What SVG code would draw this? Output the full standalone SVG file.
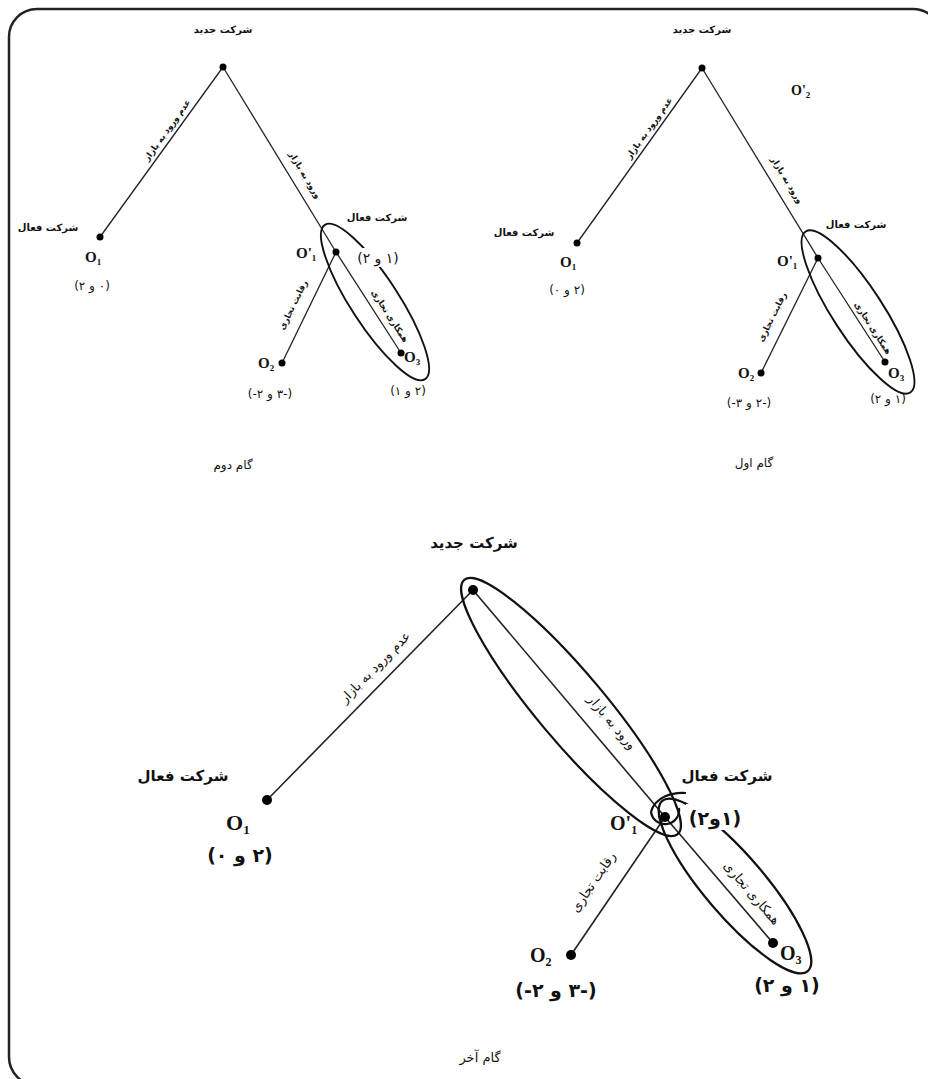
<svg xmlns="http://www.w3.org/2000/svg" width="928" height="1079" viewBox="0 0 928 1079">
<style>
.ln{stroke:#222;stroke-width:1.3;fill:none}
.lnb{stroke:#222;stroke-width:1.6;fill:none}
.el{stroke:#111;stroke-width:1.9;fill:none}
.elb{stroke:#111;stroke-width:2.2;fill:none}
.dot{fill:#000}
.fa{font-family:"DejaVu Sans","Noto Sans",sans-serif;fill:#111;text-anchor:middle}
.b{font-weight:bold}
.o{font-family:"Liberation Serif","Times New Roman",serif;font-weight:bold;fill:#111}
.num{font-family:"DejaVu Sans",sans-serif;fill:#111;text-anchor:middle;direction:ltr;unicode-bidi:bidi-override}
.bg{fill:#fff}
</style>
<rect x="9" y="9" width="932" height="1076" rx="28" fill="#fff" stroke="#222" stroke-width="2.5"/>

<g id="connectors">
  <line class="ln" x1="223" y1="67" x2="100" y2="237"/>
  <line class="ln" x1="223" y1="67" x2="336" y2="252"/>
  <line class="ln" x1="336" y1="252" x2="282" y2="363"/>
  <line class="ln" x1="336" y1="252" x2="401" y2="353"/>
  <line class="ln" x1="702" y1="68" x2="577" y2="243"/>
  <line class="ln" x1="702" y1="68" x2="818" y2="258"/>
  <line class="ln" x1="818" y1="258" x2="761" y2="373"/>
  <line class="ln" x1="818" y1="258" x2="885" y2="362"/>
  <line class="lnb" x1="473" y1="590" x2="267" y2="800"/>
  <line class="lnb" x1="473" y1="590" x2="665" y2="817"/>
  <line class="lnb" x1="665" y1="817" x2="571" y2="955"/>
  <line class="lnb" x1="665" y1="817" x2="773" y2="943"/>
</g>

<g id="highlights">
  <ellipse class="el" cx="375" cy="302" rx="92" ry="24" transform="rotate(57 375 302)"/>
  <ellipse class="el" cx="858" cy="312" rx="96" ry="25" transform="rotate(57 858 312)"/>
  <ellipse class="elb" cx="571" cy="707" rx="166" ry="34" transform="rotate(50 571 707)"/>
  <ellipse class="elb" cx="735" cy="886" rx="112" ry="30" transform="rotate(49.5 735 886)"/>
  <path class="elb" d="M 686 793 C 672 792 655 797 651 812 A 14 14 0 1 0 679 808"/>
</g>

<g id="edge-labels" class="fa b" font-size="8.5">
  <text transform="translate(167,130) rotate(-54.3)" dominant-baseline="central">عدم ورود به بازار</text>
  <text transform="translate(305,175) rotate(58.7)" dominant-baseline="central">ورود به بازار</text>
  <text transform="translate(293,305) rotate(-64)" dominant-baseline="central">رقابت تجاری</text>
  <text transform="translate(390,316) rotate(57.2)" dominant-baseline="central">همکاری تجاری</text>
  <text transform="translate(649,128) rotate(-54.5)" dominant-baseline="central">عدم ورود به بازار</text>
  <text transform="translate(787,180) rotate(58.6)" dominant-baseline="central">ورود به بازار</text>
  <text transform="translate(772,317) rotate(-63.6)" dominant-baseline="central">رقابت تجاری</text>
  <text transform="translate(873,328) rotate(57.2)" dominant-baseline="central">همکاری تجاری</text>
</g>
<g id="edge-labels-bottom" class="fa" font-size="13">
  <text transform="translate(375,667) rotate(-45.5)" dominant-baseline="central">عدم ورود به بازار</text>
  <text transform="translate(612,722) rotate(49.8)" dominant-baseline="central">ورود به بازار</text>
  <text transform="translate(593,882) rotate(-55.7)" dominant-baseline="central">رقابت تجاری</text>
  <text transform="translate(752,893) rotate(49.4)" dominant-baseline="central">همکاری تجاری</text>
</g>

<g id="tl-root">
  <circle class="dot" cx="223" cy="67" r="3.5"/>
  <text class="fa b" x="223" y="33" font-size="10">شرکت جدید</text>
</g>
<g id="tl-o1">
  <circle class="dot" cx="100" cy="237" r="3.5"/>
  <text class="fa b" x="48" y="231" font-size="10">شرکت فعال</text>
  <text class="o" x="85" y="262" font-size="15">O<tspan font-size="9" dy="3">1</tspan></text>
  <text class="num" x="92" y="290" font-size="12">(۲ و ۰)</text>
</g>
<g id="tl-o1p">
  <circle class="dot" cx="336" cy="252" r="3.5"/>
  <text class="o" x="296" y="258" font-size="15">O'<tspan font-size="9" dy="3">1</tspan></text>
  <text class="fa b" x="377" y="221" font-size="10">شرکت فعال</text>
  <rect class="bg" x="357" y="248" width="44" height="19"/>
  <text class="num" x="378" y="263" font-size="14">(۲ و ۱)</text>
</g>
<g id="tl-o2">
  <circle class="dot" cx="282" cy="363" r="3.5"/>
  <text class="o" x="258" y="368" font-size="15">O<tspan font-size="9" dy="3">2</tspan></text>
  <text class="num" x="270" y="398" font-size="12">(-۲ و ۳-)</text>
</g>
<g id="tl-o3">
  <circle class="dot" cx="401" cy="353" r="3.5"/>
  <text class="o" x="404" y="362" font-size="15">O<tspan font-size="9" dy="3">3</tspan></text>
  <text class="num" x="408" y="395" font-size="12">(۱ و ۲)</text>
</g>
<g id="tl-title"><text class="fa" x="233" y="469" font-size="12">گام دوم</text></g>

<g id="tr-root">
  <circle class="dot" cx="702" cy="68" r="3.5"/>
  <text class="fa b" x="702" y="33" font-size="10">شرکت جدید</text>
  <text class="o" x="791" y="95" font-size="14">O'<tspan font-size="9" dy="3">2</tspan></text>
</g>
<g id="tr-o1">
  <circle class="dot" cx="577" cy="243" r="3.5"/>
  <text class="fa b" x="524" y="236" font-size="10">شرکت فعال</text>
  <text class="o" x="560" y="267" font-size="15">O<tspan font-size="9" dy="3">1</tspan></text>
  <text class="num" x="567" y="294" font-size="12">(۰ و ۲)</text>
</g>
<g id="tr-o1p">
  <circle class="dot" cx="818" cy="258" r="3.5"/>
  <text class="o" x="777" y="266" font-size="15">O'<tspan font-size="9" dy="3">1</tspan></text>
  <text class="fa b" x="856" y="228" font-size="10">شرکت فعال</text>
</g>
<g id="tr-o2">
  <circle class="dot" cx="761" cy="373" r="3.5"/>
  <text class="o" x="738" y="378" font-size="15">O<tspan font-size="9" dy="3">2</tspan></text>
  <text class="num" x="749" y="407" font-size="12">(-۳ و ۲-)</text>
</g>
<g id="tr-o3">
  <circle class="dot" cx="885" cy="362" r="3.5"/>
  <text class="o" x="888" y="378" font-size="15">O<tspan font-size="9" dy="3">3</tspan></text>
  <text class="num" x="888" y="403" font-size="12">(۲ و ۱)</text>
</g>
<g id="tr-title"><text class="fa" x="754" y="467" font-size="12">گام اول</text></g>

<g id="b-root">
  <circle class="dot" cx="473" cy="590" r="5"/>
  <text class="fa b" x="474" y="548" font-size="15">شرکت جدید</text>
</g>
<g id="b-o1">
  <circle class="dot" cx="267" cy="800" r="5"/>
  <text class="fa b" x="183" y="781" font-size="15">شرکت فعال</text>
  <text class="o" x="226" y="830" font-size="22">O<tspan font-size="13" dy="4">1</tspan></text>
  <text class="num b" x="240" y="862" font-size="19">(۰ و ۲)</text>
</g>
<g id="b-o1p">
  <circle class="dot" cx="665" cy="817" r="5"/>
  <text class="o" x="610" y="830" font-size="20">O'<tspan font-size="12" dy="4">1</tspan></text>
  <text class="fa b" x="727" y="781" font-size="15">شرکت فعال</text>
  <rect class="bg" x="686" y="804" width="58" height="26"/>
  <text class="num b" x="715" y="825" font-size="19">(۲و۱)</text>
</g>
<g id="b-o2">
  <circle class="dot" cx="571" cy="955" r="5"/>
  <text class="o" x="530" y="962" font-size="20">O<tspan font-size="12" dy="4">2</tspan></text>
  <text class="num b" x="556" y="997" font-size="19">(-۲ و ۳-)</text>
</g>
<g id="b-o3">
  <circle class="dot" cx="773" cy="943" r="5"/>
  <text class="o" x="780" y="960" font-size="20">O<tspan font-size="12" dy="4">3</tspan></text>
  <text class="num b" x="787" y="992" font-size="19">(۲ و ۱)</text>
</g>
<g id="b-title"><text class="fa" x="480" y="1062" font-size="13">گام آخر</text></g>
</svg>
